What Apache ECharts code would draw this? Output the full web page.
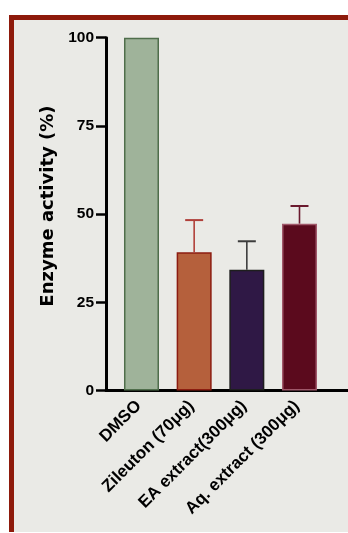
<!DOCTYPE html>
<html>
<head>
<meta charset="utf-8">
<script src="https://cdn.jsdelivr.net/npm/echarts@6/dist/echarts.min.js"></script>
<style>
  html, body { margin: 0; padding: 0; background: #ffffff; width: 348px; height: 533px; overflow: hidden; }
  #panel {
    position: absolute; left: 9px; top: 15px; right: 0; bottom: 1px;
    background: #eaeae6;
    border-left: 5px solid #8e1a0b;
    border-top: 5px solid #8e1a0b;
  }
  #chart { position: absolute; left: 0; top: 0; width: 348px; height: 533px; }
</style>
</head>
<body>
<div id="panel"></div>
<div id="chart"></div>
<script>
// Enzyme activity by treatment (mean with upper SD)
const categories = ['DMSO', 'Zileuton (70\u03bcg)', 'EA extract(300\u03bcg)', 'Aq. extract (300\u03bcg)'];
const activity = [100, 39.2, 34.2, 47.3];
const errorUp = [0, 9.1, 8.1, 5.0];
const yTicks = [0, 25, 50, 75, 100];

const barFill = ['#9fb39a', '#b5603c', '#2f1845', '#5b0a1d'];
const barEdge = ['#4f6e4b', '#8c1c10', '#1e1e1e', '#a0586a'];
const errColor = ['#4f6e4b', '#b0403a', '#3c3c3c', '#6a1a2e'];

const font = '"Liberation Sans", Arial, sans-serif';

const chart = echarts.init(document.getElementById('chart'), null, { renderer: 'canvas' });

chart.setOption({
  backgroundColor: 'transparent',
  animation: false,
  grid: { left: 106, right: 0, top: 37.7, bottom: 533 - 390.5, containLabel: false },
  xAxis: {
    type: 'value',
    min: -0.674,
    max: 3.921,
    splitLine: { show: false },
    axisLine: { show: true, onZero: false, lineStyle: { color: '#000', width: 3 } },
    axisTick: { show: false },
    axisLabel: {
      show: true,
      customValues: [0, 1, 2, 3],
      formatter: v => categories[Math.round(v)],
      rotate: 45,
      margin: 10,
      padding: [0, 4, 0, 0],
      color: '#000',
      fontFamily: font,
      fontWeight: 'bold',
      fontSize: 17
    }
  },
  yAxis: {
    type: 'value',
    min: 0,
    max: 100,
    interval: 25,
    splitLine: { show: false },
    axisLine: { show: true, onZero: false, lineStyle: { color: '#000', width: 3 } },
    axisTick: { show: true, length: 10, lineStyle: { color: '#000', width: 2.5 } },
    axisLabel: {
      margin: 12,
      color: '#000',
      fontFamily: font,
      fontWeight: 'bold',
      fontSize: 15.5,
      formatter: v => yTicks.includes(v) ? String(v) : ''
    },
    name: 'Enzyme activity (%)',
    nameLocation: 'middle',
    nameGap: 46,
    nameTextStyle: {
      color: '#000',
      fontFamily: '"DejaVu Sans", sans-serif',
      fontWeight: 'bold',
      fontSize: 18,
      padding: [0, 0, 0, 16]
    }
  },
  series: [
    {
      type: 'bar',
      barWidth: 35,
      data: activity.map((v, i) => ({
        value: [i, v],
        itemStyle: { color: barFill[i], borderColor: barEdge[i], borderWidth: 1.5 }
      }))
    },
    {
      type: 'custom',
      z: 3,
      data: activity.map((v, i) => [i, v, v + errorUp[i]]),
      renderItem: (params, api) => {
        const i = api.value(0);
        if (errorUp[i] <= 0) return null;
        const base = api.coord([i, api.value(1)]);
        const top = api.coord([i, api.value(2)]);
        const half = 9;
        const style = { stroke: errColor[i], lineWidth: 1.6, fill: null };
        return {
          type: 'group',
          children: [
            { type: 'line', shape: { x1: base[0], y1: base[1], x2: top[0], y2: top[1] }, style },
            { type: 'line', shape: { x1: top[0] - half, y1: top[1], x2: top[0] + half, y2: top[1] }, style: Object.assign({}, style, { lineWidth: 2 }) }
          ]
        };
      }
    }
  ]
});
</script>
</body>
</html>
